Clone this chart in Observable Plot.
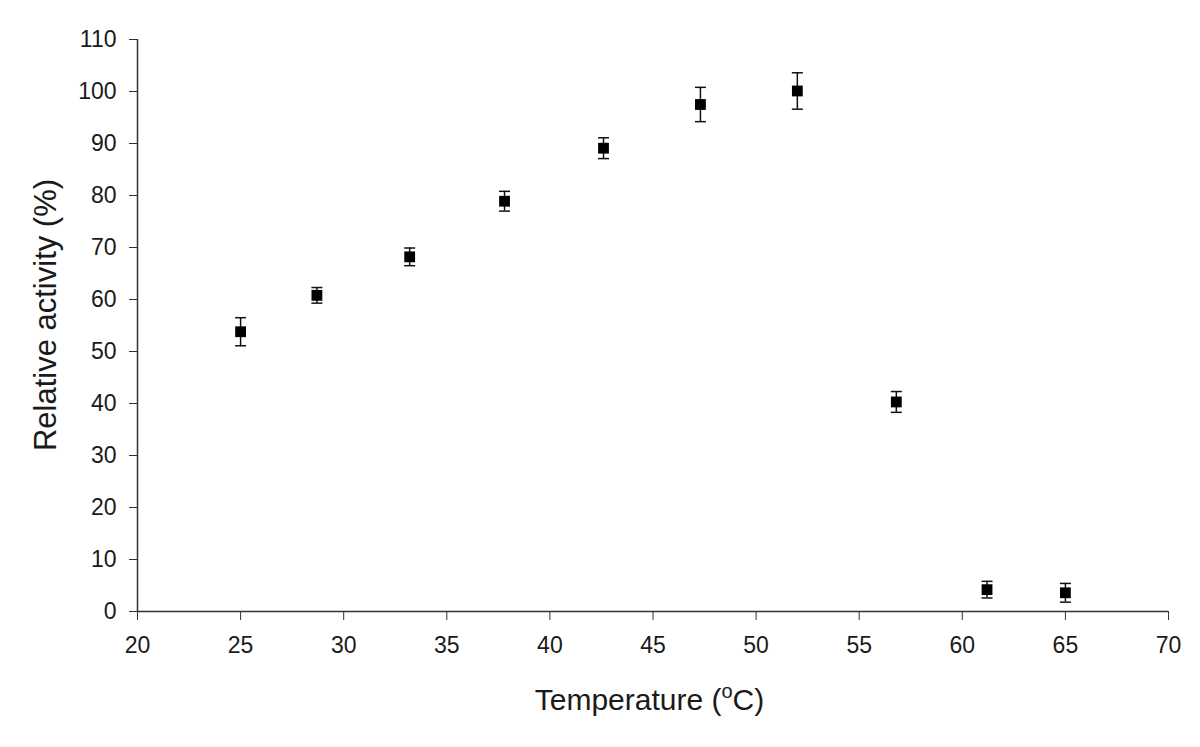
<!DOCTYPE html>
<html>
<head>
<meta charset="utf-8">
<script src="https://cdn.jsdelivr.net/npm/d3@7"></script>
<script src="https://cdn.jsdelivr.net/npm/@observablehq/plot@0.6"></script>
<style>
  html, body { margin: 0; padding: 0; background: #fff; }
  svg { display: block; }
</style>
</head>
<body>
<div id="chart"></div>
<script>
// Data
const temperature = [25, 28.7, 33.2, 37.8, 42.6, 47.3, 52.0, 56.8, 61.2, 65.0];
const activity    = [53.8, 60.8, 68.2, 78.9, 89.1, 97.5, 100.1, 40.3, 4.2, 3.6];
const errorSD     = [2.7, 1.5, 1.7, 1.9, 2.0, 3.3, 3.5, 2.0, 1.6, 1.8];
const xTicks = [20, 25, 30, 35, 40, 45, 50, 55, 60, 65, 70];
const yTicks = [0, 10, 20, 30, 40, 50, 60, 70, 80, 90, 100, 110];
const xTitle = "Temperature (";
const xTitleSup = "o";
const xTitleEnd = "C)";
const yTitle = "Relative activity (%)";

const data = temperature.map((t, i) => ({
  t, v: activity[i], lo: activity[i] - errorSD[i], hi: activity[i] + errorSD[i]
}));

const capSymbol = {
  draw(context) {
    context.moveTo(-5.5, 0);
    context.lineTo(5.5, 0);
  }
};

const font = "'Liberation Sans', Arial, sans-serif";
const ink = "#1a1a1a";

const plot = Plot.plot({
  width: 1200,
  height: 747,
  marginLeft: 137,
  marginRight: 32,
  marginTop: 39,
  marginBottom: 136,
  style: { fontFamily: font, fontSize: "23px", color: ink, background: "#fff" },
  x: { domain: [20, 70] },
  y: { domain: [0, 110] },
  marks: [
    Plot.axisX({ ticks: xTicks, tickSize: 9, tickPadding: 16, tickFormat: d => d, label: null, stroke: "#333" }),
    Plot.axisY({ ticks: yTicks, tickSize: 8, tickPadding: 13, tickFormat: d => d, label: null, stroke: "#333" }),
    Plot.ruleX([20], { stroke: "#333", strokeWidth: 1.5 }),
    Plot.ruleY([0], { stroke: "#333", strokeWidth: 1.5 }),
    Plot.ruleX(data, { x: "t", y1: "lo", y2: "hi", stroke: "#111", strokeWidth: 1.5 }),
    Plot.dot(data, { x: "t", y: "lo", symbol: capSymbol, stroke: "#111", strokeWidth: 1.5 }),
    Plot.dot(data, { x: "t", y: "hi", symbol: capSymbol, stroke: "#111", strokeWidth: 1.5 }),
    Plot.dot(data, { x: "t", y: "v", symbol: "square", r: 6.1, fill: "#000", stroke: "none" })
  ]
});

const svg = d3.select(plot);
svg.selectAll("text").style("font-size", "23px").style("font-family", font).attr("fill", ink);

// Axis titles
const xs = plot.scale("x");
const cx = (xs.range[0] + xs.range[1]) / 2;
const xt = svg.append("text")
  .attr("x", cx - 3).attr("y", 710)
  .attr("text-anchor", "middle")
  .style("font-family", font).style("font-size", "30px").attr("fill", ink);
xt.append("tspan").text(xTitle);
xt.append("tspan").style("font-size", "20px").attr("dy", -12).text(xTitleSup);
xt.append("tspan").attr("dy", 12).text(xTitleEnd);

svg.append("text")
  .attr("transform", `translate(56,315) rotate(-90)`)
  .attr("text-anchor", "middle")
  .style("font-family", font).style("font-size", "31px").attr("fill", ink)
  .text(yTitle);

document.getElementById("chart").appendChild(plot);
</script>
</body>
</html>
